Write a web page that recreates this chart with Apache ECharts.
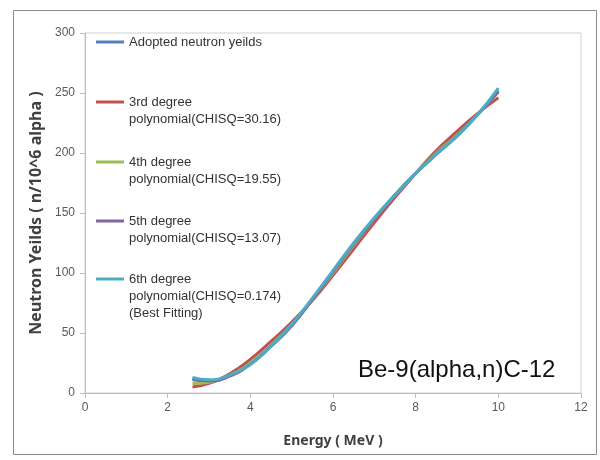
<!DOCTYPE html>
<html>
<head>
    <meta charset="utf-8">
    <title>Be-9(alpha,n)C-12</title>
    <script src="https://cdn.jsdelivr.net/npm/echarts@6/dist/echarts.min.js"></script>
    <style>
        body { margin: 0; background: #fff; }
        #main { width: 600px; height: 460px; }
    </style>
</head>
<body>
    <div id="main"></div>
    <script type="text/javascript">
        // energy points (MeV)
        var energy = [2.6, 3, 3.5, 4, 4.5, 5, 5.5, 6, 6.5, 7, 7.5, 8, 8.5, 9, 9.5, 10];

        var adopted = [11, 10, 15, 24, 39, 56, 78, 101, 124, 145, 165, 183, 199, 215, 232, 252];
        var poly3 = [5, 8, 16, 28, 43, 59, 77, 98, 120, 142, 163, 183, 202, 218, 233, 246];
        var poly4 = [8, 9, 15, 25, 40, 57, 78, 100, 123, 145, 165, 183, 200, 215, 232, 251];
        var poly5 = [12, 10, 14, 24, 39, 56, 78, 101, 124, 145, 165, 183, 199, 214, 232, 251];
        var poly6 = [13, 11, 15, 24, 39, 57, 79, 102, 125, 146, 165, 183, 199, 214, 232, 254];

        var seriesNames = [
            'Adopted neutron yeilds',
            '3rd degree polynomial(CHISQ=30.16)',
            '4th degree polynomial(CHISQ=19.55)',
            '5th degree polynomial(CHISQ=13.07)',
            '6th degree polynomial(CHISQ=0.174) (Best Fitting)'
        ];
        // how each legend entry wraps in the original
        var legendLines = [
            ['Adopted neutron yeilds'],
            ['3rd degree', 'polynomial(CHISQ=30.16)'],
            ['4th degree', 'polynomial(CHISQ=19.55)'],
            ['5th degree', 'polynomial(CHISQ=13.07)'],
            ['6th degree', 'polynomial(CHISQ=0.174)', '(Best Fitting)']
        ];
        var seriesValues = [adopted, poly3, poly4, poly5, poly6];
        var colors = ['#4F81BD', '#C0504D', '#9BBB59', '#8064A2', '#4BACC6'];

        var xTicks = { min: 0, max: 12, interval: 2 };
        var yTicks = { min: 0, max: 300, interval: 50 };

        var FONT = 'Liberation Sans';
        var TITLE_FONT = 'Noto Sans';
        var LINE_H = 17;
        var iconY = [42, 102, 162, 221, 279];

        var chart = echarts.init(document.getElementById('main'));

        // one legend per entry so the icon sits on the first text line
        var legends = seriesNames.map(function (name, i) {
            var lines = legendLines[i];
            var pad = [];
            for (var k = 1; k < lines.length; k++) pad.push('');
            var text = pad.concat(lines).join('\n');
            var blockH = (pad.length + lines.length) * LINE_H;
            return {
                data: [name],
                left: 96,
                top: iconY[i] - blockH / 2,
                padding: 0,
                icon: 'rect',
                itemWidth: 28,
                itemHeight: 3,
                selectedMode: false,
                formatter: function () { return text; },
                textStyle: {
                    fontFamily: FONT,
                    fontSize: 13,
                    color: '#333333',
                    lineHeight: LINE_H
                }
            };
        });

        var option = {
            animation: false,
            color: colors,
            legend: legends,
            grid: {
                left: 85,
                right: 19,
                top: 33,
                bottom: 67,
                show: true,
                borderColor: '#d0d0d0',
                borderWidth: 1
            },
            xAxis: {
                type: 'value',
                min: xTicks.min,
                max: xTicks.max,
                interval: xTicks.interval,
                name: 'Energy ( MeV )',
                nameLocation: 'middle',
                nameGap: 41,
                nameTextStyle: { fontFamily: TITLE_FONT, fontSize: 14, fontWeight: 'bold', color: '#404040' },
                axisLine: { lineStyle: { color: '#bfbfbf' } },
                axisTick: { show: true, length: 5, lineStyle: { color: '#bfbfbf' } },
                axisLabel: { fontFamily: FONT, fontSize: 12, color: '#595959', margin: 9 },
                splitLine: { show: false }
            },
            yAxis: {
                type: 'value',
                min: yTicks.min,
                max: yTicks.max,
                interval: yTicks.interval,
                name: 'Neutron Yeilds ( n/10^6 alpha )',
                nameLocation: 'middle',
                nameGap: 41,
                nameTextStyle: { fontFamily: TITLE_FONT, fontSize: 16, fontWeight: 'bold', color: '#404040' },
                axisLine: { show: true, lineStyle: { color: '#bfbfbf' } },
                axisTick: { show: true, length: 5, lineStyle: { color: '#bfbfbf' } },
                axisLabel: { fontFamily: FONT, fontSize: 12, color: '#595959', margin: 10 },
                splitLine: { show: false }
            },
            graphic: [
                {
                    type: 'rect',
                    silent: true,
                    shape: { x: 13.5, y: 10.5, width: 583, height: 444 },
                    style: { fill: null, stroke: '#8c8c8c', lineWidth: 1 }
                },
                {
                    type: 'text',
                    left: 358,
                    top: 358,
                    style: {
                        text: 'Be-9(alpha,n)C-12',
                        font: '24px "' + FONT + '"',
                        fill: '#111111'
                    }
                }
            ],
            series: seriesNames.map(function (name, i) {
                return {
                    name: name,
                    type: 'line',
                    smooth: true,
                    showSymbol: false,
                    data: energy.map(function (x, j) { return [x, seriesValues[i][j]]; }),
                    lineStyle: { width: 3, color: colors[i] },
                    itemStyle: { color: colors[i] }
                };
            })
        };

        chart.setOption(option);
    </script>
</body>
</html>
